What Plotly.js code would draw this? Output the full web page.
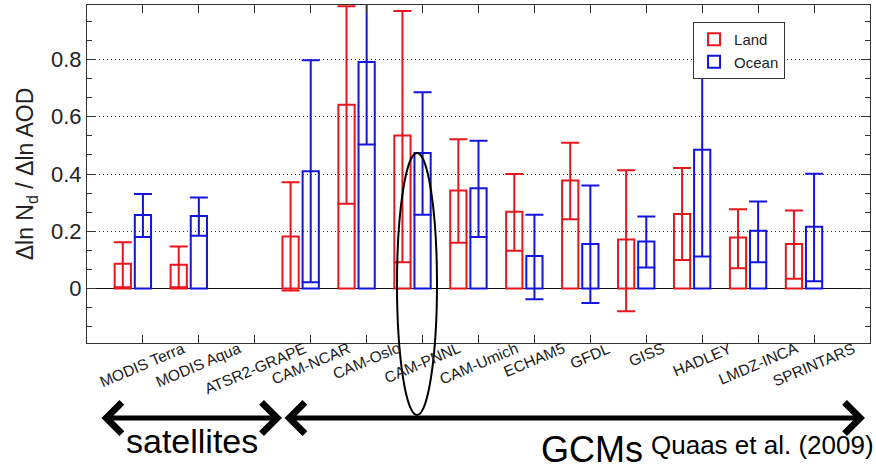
<!DOCTYPE html>
<html>
<head>
<meta charset="utf-8">
<script src="https://cdn.plot.ly/plotly-3.0.1.min.js"></script>
<style>html,body{margin:0;padding:0;background:#fff;}#chart{width:876px;height:469px;}</style>
</head>
<body>
<div id="chart"></div>
<script>
// ---- data ----
const categories = ["MODIS Terra","MODIS Aqua","ATSR2-GRAPE","CAM-NCAR","CAM-Oslo","CAM-PNNL","CAM-Umich","ECHAM5","GFDL","GISS","HADLEY","LMDZ-INCA","SPRINTARS"];
const landValue  = [0.087, 0.083, null, 0.182, 0.642, 0.534, 0.342, 0.268, 0.377, 0.171, 0.260, 0.178, 0.156];
const landLow    = [0.005, 0.005, null, -0.007, 0.296, 0.092, 0.160, 0.132, 0.242, -0.079, 0.100, 0.071, 0.034];
const landHigh   = [0.162, 0.147, null, 0.371, 0.986, 0.969, 0.521, 0.400, 0.509, 0.413, 0.421, 0.277, 0.273];
const oceanValue = [0.257, 0.253, null, 0.410, 0.791, 0.473, 0.350, 0.114, 0.156, 0.164, 0.485, 0.202, 0.216];
const oceanLow   = [0.180, 0.184, null, 0.022, 0.503, 0.258, 0.180, -0.037, -0.050, 0.074, 0.112, 0.092, 0.026];
const oceanHigh  = [0.330, 0.318, null, 0.797, 1.080, 0.685, 0.516, 0.258, 0.360, 0.252, 0.900, 0.304, 0.401];
const yTickVals  = [0, 0.2, 0.4, 0.6, 0.8];
const yTickText  = ["0", "0.2", "0.4", "0.6", "0.8"];

const RED = '#e8161c', BLUE = '#1414e0';
const FONT = '"Liberation Sans", Arial, Helvetica, sans-serif';
const idx = categories.map((c, i) => i + 1);
const plus  = (v, h) => v.map((x, i) => x == null ? null : h[i] - x);
const minus = (v, l) => v.map((x, i) => x == null ? null : x - l[i]);

const barW = 0.29;
const landTrace = {
  type: 'bar', name: 'Land',
  x: idx.map(i => i - 0.36), y: landValue, width: barW,
  marker: {color: 'rgba(0,0,0,0)', line: {color: RED, width: 2}},
  error_y: {type: 'data', symmetric: false, array: plus(landValue, landHigh), arrayminus: minus(landValue, landLow),
            color: RED, thickness: 2, width: 9},
  hoverinfo: 'skip'
};
const oceanTrace = {
  type: 'bar', name: 'Ocean',
  x: idx, y: oceanValue, width: barW,
  marker: {color: 'rgba(0,0,0,0)', line: {color: BLUE, width: 2}},
  error_y: {type: 'data', symmetric: false, array: plus(oceanValue, oceanHigh), arrayminus: minus(oceanValue, oceanLow),
            color: BLUE, thickness: 2, width: 9},
  hoverinfo: 'skip'
};

const annotations = categories.map((c, i) => ({
  text: c, xref: 'x', x: idx[i], yref: 'paper', y: 0.015,
  xanchor: 'center', yanchor: 'top', textangle: -23, showarrow: false, borderpad: 0,
  font: {family: FONT, size: 15.5, color: '#1a1a1a'}
}));
annotations.push(
  {text: '', xref: 'paper', yref: 'paper', x: 0.249, y: -0.222, ax: -182, ay: 0, axref: 'pixel', ayref: 'pixel',
   showarrow: true, arrowhead: 4, startarrowhead: 4, arrowside: 'end+start', arrowwidth: 5, arrowsize: 1.2, startarrowsize: 1.2, arrowcolor: '#000'},
  {text: '', xref: 'paper', yref: 'paper', x: 0.9936, y: -0.222, ax: -582, ay: 0, axref: 'pixel', ayref: 'pixel',
   showarrow: true, arrowhead: 4, startarrowhead: 4, arrowside: 'end+start', arrowwidth: 5, arrowsize: 1.2, startarrowsize: 1.2, arrowcolor: '#000'},
  {text: 'satellites', xref: 'paper', yref: 'paper', x: (192 - 87) / 783, y: -0.29, xanchor: 'center', yanchor: 'middle',
   showarrow: false, font: {family: FONT, size: 34, color: '#000'}},
  {text: 'GCMs', xref: 'paper', yref: 'paper', x: (592 - 87) / 783, y: -0.316, xanchor: 'center', yanchor: 'middle',
   showarrow: false, font: {family: FONT, size: 36, color: '#000'}},
  {text: 'Quaas et al. (2009)', xref: 'paper', yref: 'paper', x: (762 - 87) / 783, y: -0.302, xanchor: 'center', yanchor: 'middle',
   showarrow: false, font: {family: FONT, size: 26, color: '#000'}}
);

const layout = {
  width: 876, height: 469,
  margin: {l: 87, r: 6, t: 5, b: 126},
  paper_bgcolor: '#fff', plot_bgcolor: '#fff',
  barmode: 'overlay',
  showlegend: true,
  font: {family: FONT, color: '#222'},
  xaxis: {range: [0, 14], tickvals: idx, showticklabels: false, ticks: 'inside', ticklen: 8, tickcolor: '#333',
          showline: true, linecolor: '#333', linewidth: 1, mirror: 'ticks', showgrid: false, zeroline: false, fixedrange: true},
  yaxis: {range: [-0.19, 0.99], tickvals: yTickVals, ticktext: yTickText, ticks: 'inside', ticklen: 9, tickcolor: '#333',
          showline: true, linecolor: '#333', linewidth: 1, mirror: 'ticks',
          minor: {tick0: 0, dtick: 0.2 / 3, ticks: 'inside', ticklen: 5, tickcolor: '#333', showgrid: false},
          showgrid: true, gridcolor: '#333', gridwidth: 1, griddash: '1px,3px',
          zeroline: true, zerolinecolor: '#111', zerolinewidth: 1,
          tickfont: {family: FONT, size: 22, color: '#222'},
          title: {text: 'Δln N<sub>d</sub> / Δln AOD', font: {family: FONT, size: 23, color: '#222'}, standoff: 10},
          fixedrange: true},
  legend: {x: 0.774, y: 0.95, xanchor: 'left', yanchor: 'top', bgcolor: '#fff', bordercolor: '#333', borderwidth: 1,
           font: {family: FONT, size: 15, color: '#222'}, tracegroupgap: 0},
  shapes: [
    {type: 'circle', xref: 'paper', yref: 'paper', x0: (397 - 87) / 783, x1: (437 - 87) / 783, y0: -0.213, y1: 0.562,
     line: {color: '#000', width: 2}, fillcolor: 'rgba(0,0,0,0)'}
  ],
  annotations: annotations
};

Plotly.newPlot('chart', [landTrace, oceanTrace], layout, {displayModeBar: false, staticPlot: true});
</script>
</body>
</html>
